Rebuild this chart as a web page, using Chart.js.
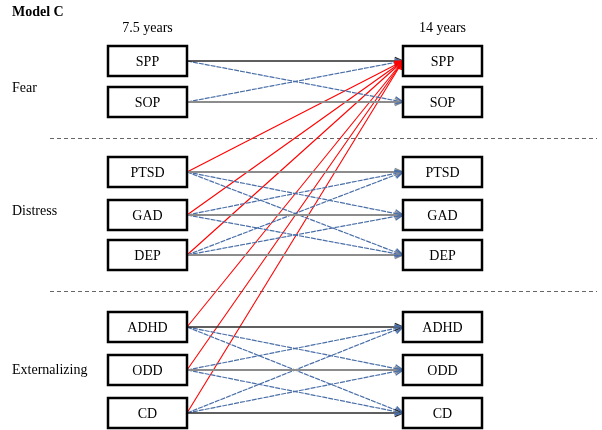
<!DOCTYPE html>
<html>
<head>
<meta charset="utf-8">
<script src="https://cdn.jsdelivr.net/npm/chart.js@4/dist/chart.umd.min.js"></script>
<style>
html,body{margin:0;padding:0;background:#fff;}
#wrap{width:602px;height:430px;position:relative;}
</style>
</head>
<body>
<div id="wrap"><canvas id="c"></canvas></div>
<script>
// ---- data ----
const title = 'Model C';
const waves = ['7.5 years', '14 years'];
const categories = ['SPP', 'SOP', 'PTSD', 'GAD', 'DEP', 'ADHD', 'ODD', 'CD'];
const groups = ['Fear', 'Distress', 'Externalizing'];
const groupOf = [0, 0, 1, 1, 1, 2, 2, 2];
// autoregressive (stability) paths: [from 7.5y, to 14y]
const stabilityPaths = [[0,0],[1,1],[2,2],[3,3],[4,4],[5,5],[6,6],[7,7]];
const stabilityDark = [true, false, false, false, false, true, false, true];
// within-spectrum cross-lagged paths
const crossPaths = [[0,1],[1,0],
  [2,3],[2,4],[3,2],[3,4],[4,2],[4,3],
  [5,6],[5,7],[6,5],[6,7],[7,5],[7,6]];
// cross-spectrum paths to SPP
const sppPaths = [[2,0],[3,0],[4,0],[5,0],[6,0],[7,0]];

// ---- layout (pixel-like value space) ----
const L = {
  leftX0: 108, leftX1: 187, rightX0: 403, rightX1: 482,
  boxH: 30,
  rowY: [61, 102, 172, 215, 255, 327, 370, 413],
  groupLabelY: [88, 211, 370],
  sepY: [138, 291], sepX0: 50, sepX1: 597,
  waveY: 28, titleX: 12, titleY: 12, groupX: 12
};

const datasets = [];
function addPath(p, color, width, dash) {
  datasets.push({
    data: [{x: L.leftX1, y: L.rowY[p[0]]}, {x: L.rightX0, y: L.rowY[p[1]]}],
    showLine: true, borderColor: color, borderWidth: width, borderDash: dash,
    pointRadius: 0, tension: 0
  });
}
stabilityPaths.forEach((p, i) => addPath(p, stabilityDark[i] ? '#2a2a2a' : '#8c8c8c', stabilityDark[i] ? 1.3 : 1.8, []));
crossPaths.forEach(p => addPath(p, '#4a6fa8', 1.2, [5, 1]));
sppPaths.forEach(p => addPath(p, '#ff0000', 1.1, []));

const diagramPlugin = {
  id: 'diagram',
  beforeDatasetsDraw(chart) {
    const ctx = chart.ctx, xs = chart.scales.x, ys = chart.scales.y;
    ctx.save();
    ctx.strokeStyle = '#666';
    ctx.lineWidth = 1;
    ctx.setLineDash([4, 3]);
    L.sepY.forEach(y => {
      const py = Math.round(ys.getPixelForValue(y)) + 0.5;
      ctx.beginPath();
      ctx.moveTo(xs.getPixelForValue(L.sepX0), py);
      ctx.lineTo(xs.getPixelForValue(L.sepX1), py);
      ctx.stroke();
    });
    ctx.restore();
  },
  afterDatasetsDraw(chart) {
    const ctx = chart.ctx, xs = chart.scales.x, ys = chart.scales.y;
    ctx.save();
    // arrowheads
    chart.data.datasets.forEach((ds) => {
      const a = ds.data[0], b = ds.data[1];
      const x1 = xs.getPixelForValue(a.x), y1 = ys.getPixelForValue(a.y);
      const x2 = xs.getPixelForValue(b.x), y2 = ys.getPixelForValue(b.y);
      const ang = Math.atan2(y2 - y1, x2 - x1);
      const len = 9, spread = 0.42;
      ctx.setLineDash([]);
      ctx.strokeStyle = ds.borderColor;
      ctx.lineWidth = 1.4;
      ctx.beginPath();
      ctx.moveTo(x2 - len * Math.cos(ang - spread), y2 - len * Math.sin(ang - spread));
      ctx.lineTo(x2, y2);
      ctx.lineTo(x2 - len * Math.cos(ang + spread), y2 - len * Math.sin(ang + spread));
      ctx.stroke();
    });
    // boxes
    ctx.setLineDash([]);
    ctx.font = '14px "Liberation Serif", "Times New Roman", serif';
    ctx.textAlign = 'center';
    ctx.textBaseline = 'middle';
    categories.forEach((name, i) => {
      [[L.leftX0, L.leftX1], [L.rightX0, L.rightX1]].forEach(([x0v, x1v]) => {
        const x0 = xs.getPixelForValue(x0v), x1 = xs.getPixelForValue(x1v);
        const yc = ys.getPixelForValue(L.rowY[i]);
        const y0 = yc - L.boxH / 2;
        ctx.fillStyle = '#fff';
        ctx.fillRect(x0, y0, x1 - x0, L.boxH);
        ctx.strokeStyle = '#000';
        ctx.lineWidth = 2.5;
        ctx.strokeRect(x0, y0, x1 - x0, L.boxH);
        ctx.fillStyle = '#000';
        ctx.fillText(name, (x0 + x1) / 2, yc + 1);
      });
    });
    // wave headings
    ctx.fillText(waves[0], xs.getPixelForValue((L.leftX0 + L.leftX1) / 2), ys.getPixelForValue(L.waveY));
    ctx.fillText(waves[1], xs.getPixelForValue((L.rightX0 + L.rightX1) / 2), ys.getPixelForValue(L.waveY));
    // group labels
    ctx.textAlign = 'left';
    groups.forEach((g, i) => {
      ctx.fillText(g, xs.getPixelForValue(L.groupX), ys.getPixelForValue(L.groupLabelY[i]));
    });
    // title
    ctx.font = 'bold 14px "Liberation Serif", "Times New Roman", serif';
    ctx.fillText(title, xs.getPixelForValue(L.titleX), ys.getPixelForValue(L.titleY));
    ctx.restore();
  }
};

new Chart(document.getElementById('c'), {
  type: 'scatter',
  data: { datasets },
  options: {
    responsive: true, maintainAspectRatio: false, animation: false,
    layout: { padding: 0 },
    plugins: { legend: { display: false }, tooltip: { enabled: false } },
    scales: {
      x: { type: 'linear', min: 0, max: 602, display: false },
      y: { type: 'linear', min: 0, max: 430, reverse: true, display: false }
    },
    elements: { point: { radius: 0 }, line: { tension: 0 } }
  },
  plugins: [diagramPlugin]
});
</script>
</body>
</html>
